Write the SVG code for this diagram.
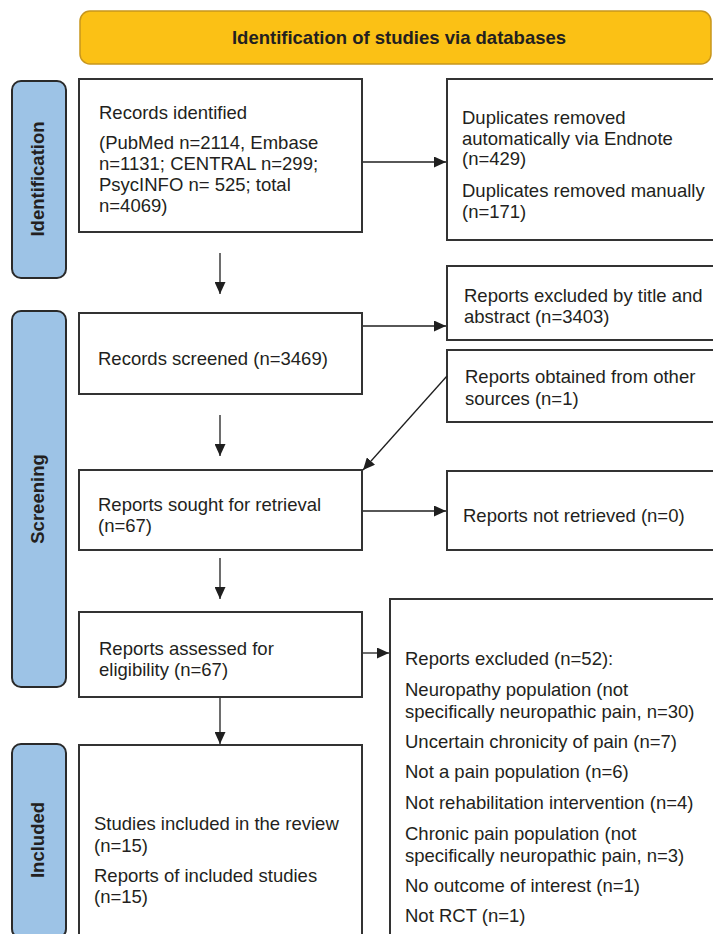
<svg xmlns="http://www.w3.org/2000/svg" width="713" height="934" viewBox="0 0 713 934">
<defs>
<marker id="ah" viewBox="0 0 12 11" refX="12" refY="5.5" markerWidth="12" markerHeight="11" markerUnits="userSpaceOnUse" orient="auto">
<path d="M0,0 L12,5.5 L0,11 Z" fill="#1f1f1f"/>
</marker>
<style>
.box{fill:#fff;stroke:#333;stroke-width:2}
.side{fill:#9dc3e6;stroke:#2a2a2a;stroke-width:2}
.t{font-family:"Liberation Sans",Arial,sans-serif;font-size:18.5px;fill:#231f20}
.lab{font-family:"Liberation Sans",Arial,sans-serif;font-size:18.5px;font-weight:bold;fill:#231f20}
.c{stroke:#1f1f1f;stroke-width:1.3;fill:none;marker-end:url(#ah)}
</style>
</defs>
<rect width="713" height="934" fill="#fff"/>
<g id="banner">
<rect x="80" y="11" width="631" height="53" rx="10" fill="#fbc115" stroke="#c8961c" stroke-width="1.5"/>
<text class="lab" x="399" y="44" text-anchor="middle">Identification of studies via databases</text>
</g>
<g id="side-identification">
<rect class="side" x="12" y="81" width="54" height="197" rx="9"/>
<text class="lab" transform="translate(44,179) rotate(-90)" text-anchor="middle">Identification</text>
</g>
<g id="side-screening">
<rect class="side" x="12" y="311" width="54" height="376" rx="9"/>
<text class="lab" transform="translate(44,499) rotate(-90)" text-anchor="middle">Screening</text>
</g>
<g id="side-included">
<rect class="side" x="12" y="744" width="54" height="194" rx="9"/>
<text class="lab" transform="translate(44,840) rotate(-90)" text-anchor="middle">Included</text>
</g>
<g id="records-identified">
<rect class="box" x="79" y="79" width="283" height="153"/>
<text class="t" x="99" y="119">Records identified</text>
<text class="t" x="99" y="149">(PubMed n=2114, Embase</text>
<text class="t" x="99" y="170">n=1131; CENTRAL n=299;</text>
<text class="t" x="99" y="191">PsycINFO n= 525; total</text>
<text class="t" x="99" y="212">n=4069)</text>
</g>
<g id="duplicates">
<rect class="box" x="447" y="79" width="280" height="161"/>
<text class="t" x="462" y="124">Duplicates removed</text>
<text class="t" x="462" y="145">automatically via Endnote</text>
<text class="t" x="462" y="165">(n=429)</text>
<text class="t" x="462" y="197">Duplicates removed manually</text>
<text class="t" x="462" y="218">(n=171)</text>
</g>
<g id="excluded-title">
<rect class="box" x="447" y="266" width="280" height="74"/>
<text class="t" x="464" y="302">Reports excluded by title and</text>
<text class="t" x="464" y="323">abstract (n=3403)</text>
</g>
<g id="other-sources">
<rect class="box" x="447" y="350" width="280" height="72"/>
<text class="t" x="465" y="383">Reports obtained from other</text>
<text class="t" x="465" y="405">sources (n=1)</text>
</g>
<g id="records-screened">
<rect class="box" x="79" y="313" width="283" height="81"/>
<text class="t" x="98" y="365">Records screened (n=3469)</text>
</g>
<g id="reports-sought">
<rect class="box" x="79" y="470" width="283" height="80"/>
<text class="t" x="98" y="511">Reports sought for retrieval</text>
<text class="t" x="98" y="532">(n=67)</text>
</g>
<g id="not-retrieved">
<rect class="box" x="447" y="471" width="280" height="79"/>
<text class="t" x="463" y="522">Reports not retrieved (n=0)</text>
</g>
<g id="reports-assessed">
<rect class="box" x="79" y="612" width="283" height="85"/>
<text class="t" x="99" y="655">Reports assessed for</text>
<text class="t" x="99" y="676">eligibility (n=67)</text>
</g>
<g id="reports-excluded">
<rect class="box" x="390" y="599" width="340" height="345"/>
<text class="t" x="405" y="665">Reports excluded (n=52):</text>
<text class="t" x="405" y="696">Neuropathy population (not</text>
<text class="t" x="405" y="718">specifically neuropathic pain, n=30)</text>
<text class="t" x="405" y="748">Uncertain chronicity of pain (n=7)</text>
<text class="t" x="405" y="778">Not a pain population (n=6)</text>
<text class="t" x="405" y="809">Not rehabilitation intervention (n=4)</text>
<text class="t" x="405" y="840">Chronic pain population (not</text>
<text class="t" x="405" y="862">specifically neuropathic pain, n=3)</text>
<text class="t" x="405" y="892">No outcome of interest (n=1)</text>
<text class="t" x="405" y="922">Not RCT (n=1)</text>
</g>
<g id="included">
<rect class="box" x="79" y="745" width="283" height="200"/>
<text class="t" x="94" y="830">Studies included in the review</text>
<text class="t" x="94" y="852">(n=15)</text>
<text class="t" x="94" y="882">Reports of included studies</text>
<text class="t" x="94" y="903">(n=15)</text>
</g>
<g id="connectors">
<line class="c" x1="363" y1="162" x2="446" y2="162"/>
<line class="c" x1="220" y1="253" x2="220" y2="294"/>
<line class="c" x1="363" y1="326" x2="446" y2="326"/>
<line class="c" x1="220" y1="415" x2="220" y2="456"/>
<line class="c" x1="447" y1="376" x2="363" y2="470"/>
<line class="c" x1="363" y1="511" x2="446" y2="511"/>
<line class="c" x1="220" y1="558" x2="220" y2="599"/>
<line class="c" x1="363" y1="653" x2="389" y2="653"/>
<line class="c" x1="220" y1="698" x2="220" y2="744"/>
</g>
</svg>
